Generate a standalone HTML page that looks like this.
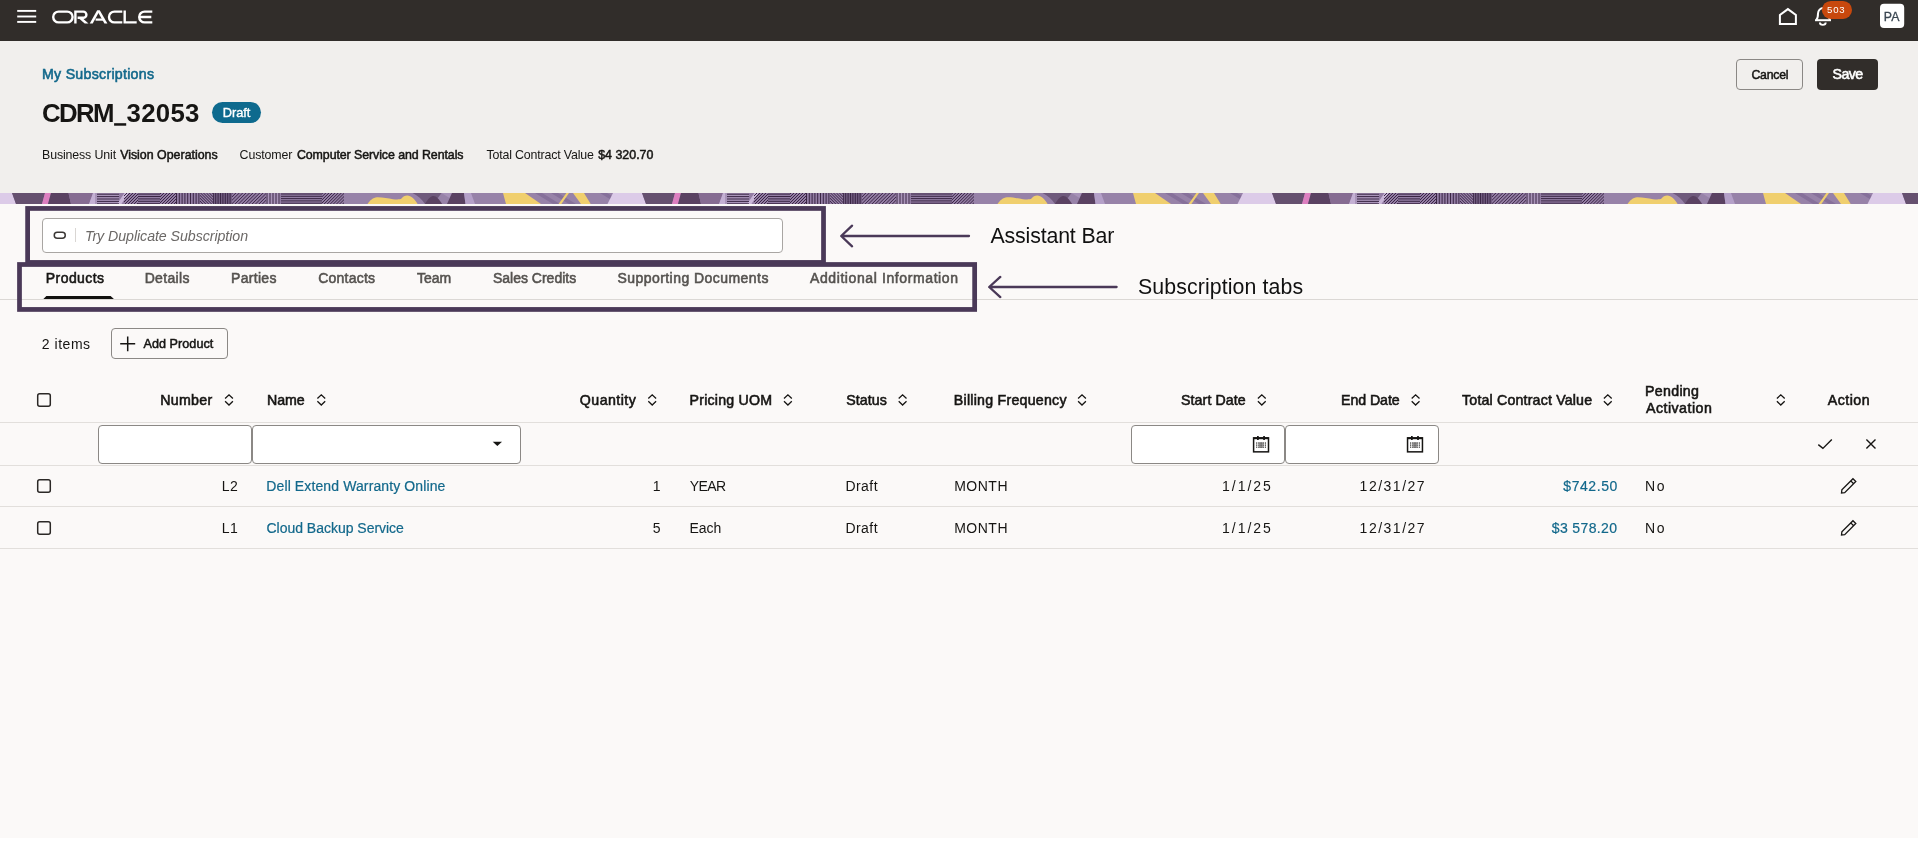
<!DOCTYPE html>
<html lang="en"><head><meta charset="utf-8"><title>CDRM_32053 - My Subscriptions</title>
<style>
html,body{margin:0;padding:0}
body{width:1918px;height:865px;position:relative;overflow:hidden;background:#fff;font-family:"Liberation Sans",sans-serif}
.a{position:absolute}
.t{position:absolute;white-space:nowrap;line-height:1}
.btn{position:absolute;box-sizing:border-box;border:1px solid #8b8885;border-radius:4px}
.inp{position:absolute;box-sizing:border-box;border:1px solid #8b8885;border-radius:4px;background:#fff}
.ln{position:absolute;left:0;width:1918px;height:1px;background:#e2dfdc}
svg{display:block;overflow:visible}
</style></head><body>
<div class="a" style="left:0;top:0;width:1918px;height:41px;background:#312d2a"></div>
<div class="a" style="left:0;top:41px;width:1918px;height:152px;background:#f1efed"></div>
<div class="a" style="left:0;top:204px;width:1918px;height:634px;background:#fbf9f8"></div>
<svg class="a" style="left:0;top:193px" width="1918" height="11" viewBox="0 0 1918 11"><defs><g id="bt"><rect x="0" y="0" width="630" height="11" fill="#9782a8"/><polygon points="0,0 12,0 16,11 0,11" fill="#dccbe8"/><polygon points="12,0 45,0 42,11 16,11" fill="#65506f"/><polygon points="45,0 51,0 48,11 42,11" fill="#dc7fc0"/><polygon points="51,0 68.5,0 71,11 48,11" fill="#5a4262"/><polygon points="68.5,0 93,0 89,11 71,11" fill="#866c92"/><polygon points="93,0 97,0 97,11 89,11" fill="#c4b0d4"/><rect x="95" y="0" width="249" height="11" fill="#937da4"/><rect x="95" y="0" width="24" height="11" fill="#a994b9"/><polygon points="117,11 124.5,0 128.5,0 121.5,11" fill="#c9b6d8"/><rect x="266" y="0" width="14" height="11" fill="#a994b9"/><clipPath id="hc0"><rect x="97" y="0" width="22" height="11"/></clipPath><g clip-path="url(#hc0)" stroke="#3a2644" stroke-width="1.0"><line x1="97" y1="1.2" x2="119" y2="1.2"/><line x1="97" y1="3.6" x2="119" y2="3.6"/><line x1="97" y1="6" x2="119" y2="6"/><line x1="97" y1="8.4" x2="119" y2="8.4"/><line x1="97" y1="10.8" x2="119" y2="10.8"/></g><clipPath id="hc1"><rect x="124" y="0" width="14" height="11"/></clipPath><g clip-path="url(#hc1)" stroke="#3a2644" stroke-width="1.0"><line x1="113" y1="11" x2="124" y2="0"/><line x1="116" y1="11" x2="127" y2="0"/><line x1="119" y1="11" x2="130" y2="0"/><line x1="122" y1="11" x2="133" y2="0"/><line x1="125" y1="11" x2="136" y2="0"/><line x1="128" y1="11" x2="139" y2="0"/><line x1="131" y1="11" x2="142" y2="0"/><line x1="134" y1="11" x2="145" y2="0"/><line x1="137" y1="11" x2="148" y2="0"/></g><clipPath id="hc2"><rect x="138" y="0" width="22" height="11"/></clipPath><g clip-path="url(#hc2)" stroke="#3a2644" stroke-width="1.0"><line x1="138" y1="1.1" x2="160" y2="1.1"/><line x1="138" y1="3.5" x2="160" y2="3.5"/><line x1="138" y1="5.9" x2="160" y2="5.9"/><line x1="138" y1="8.3" x2="160" y2="8.3"/><line x1="138" y1="10.7" x2="160" y2="10.7"/></g><clipPath id="hc3"><rect x="160" y="0" width="16" height="11"/></clipPath><g clip-path="url(#hc3)" stroke="#3a2644" stroke-width="1.0"><line x1="150" y1="11" x2="161" y2="0"/><line x1="153" y1="11" x2="164" y2="0"/><line x1="156" y1="11" x2="167" y2="0"/><line x1="159" y1="11" x2="170" y2="0"/><line x1="162" y1="11" x2="173" y2="0"/><line x1="165" y1="11" x2="176" y2="0"/><line x1="168" y1="11" x2="179" y2="0"/><line x1="171" y1="11" x2="182" y2="0"/><line x1="174" y1="11" x2="185" y2="0"/></g><clipPath id="hc4"><rect x="176" y="0" width="24" height="11"/></clipPath><g clip-path="url(#hc4)" stroke="#3a2644" stroke-width="1.0"><line x1="176.5" y1="0" x2="176.5" y2="11"/><line x1="179.3" y1="0" x2="179.3" y2="11"/><line x1="182.1" y1="0" x2="182.1" y2="11"/><line x1="184.9" y1="0" x2="184.9" y2="11"/><line x1="187.7" y1="0" x2="187.7" y2="11"/><line x1="190.5" y1="0" x2="190.5" y2="11"/><line x1="193.3" y1="0" x2="193.3" y2="11"/><line x1="196.1" y1="0" x2="196.1" y2="11"/><line x1="198.9" y1="0" x2="198.9" y2="11"/></g><clipPath id="hc5"><rect x="200" y="0" width="13" height="11"/></clipPath><g clip-path="url(#hc5)" stroke="#3a2644" stroke-width="1.0"><line x1="189" y1="0" x2="200" y2="11"/><line x1="191.9" y1="0" x2="202.9" y2="11"/><line x1="194.8" y1="0" x2="205.8" y2="11"/><line x1="197.7" y1="0" x2="208.7" y2="11"/><line x1="200.6" y1="0" x2="211.6" y2="11"/><line x1="203.5" y1="0" x2="214.5" y2="11"/><line x1="206.4" y1="0" x2="217.4" y2="11"/><line x1="209.3" y1="0" x2="220.3" y2="11"/><line x1="212.2" y1="0" x2="223.2" y2="11"/></g><clipPath id="hc6"><rect x="213" y="0" width="19" height="11"/></clipPath><g clip-path="url(#hc6)" stroke="#3a2644" stroke-width="1.0"><line x1="213.3" y1="0" x2="213.3" y2="11"/><line x1="215.7" y1="0" x2="215.7" y2="11"/><line x1="218.1" y1="0" x2="218.1" y2="11"/><line x1="220.5" y1="0" x2="220.5" y2="11"/><line x1="222.9" y1="0" x2="222.9" y2="11"/><line x1="225.3" y1="0" x2="225.3" y2="11"/><line x1="227.7" y1="0" x2="227.7" y2="11"/><line x1="230.1" y1="0" x2="230.1" y2="11"/></g><clipPath id="hc7"><rect x="232" y="0" width="34" height="11"/></clipPath><g clip-path="url(#hc7)" stroke="#3a2644" stroke-width="1.0"><line x1="221.5" y1="11" x2="232.5" y2="0"/><line x1="224.9" y1="11" x2="235.9" y2="0"/><line x1="228.3" y1="11" x2="239.3" y2="0"/><line x1="231.7" y1="11" x2="242.7" y2="0"/><line x1="235.1" y1="11" x2="246.1" y2="0"/><line x1="238.5" y1="11" x2="249.5" y2="0"/><line x1="241.9" y1="11" x2="252.9" y2="0"/><line x1="245.3" y1="11" x2="256.3" y2="0"/><line x1="248.7" y1="11" x2="259.7" y2="0"/><line x1="252.1" y1="11" x2="263.1" y2="0"/><line x1="255.5" y1="11" x2="266.5" y2="0"/><line x1="258.9" y1="11" x2="269.9" y2="0"/><line x1="262.3" y1="11" x2="273.3" y2="0"/><line x1="265.7" y1="11" x2="276.7" y2="0"/></g><clipPath id="hc8"><rect x="266" y="0" width="15" height="11"/></clipPath><g clip-path="url(#hc8)" stroke="#3a2644" stroke-width="1.0"><line x1="267" y1="0" x2="267" y2="11"/><line x1="270" y1="0" x2="270" y2="11"/><line x1="273" y1="0" x2="273" y2="11"/><line x1="276" y1="0" x2="276" y2="11"/><line x1="279" y1="0" x2="279" y2="11"/></g><clipPath id="hc9"><rect x="281" y="0" width="41" height="11"/></clipPath><g clip-path="url(#hc9)" stroke="#3a2644" stroke-width="1.0"><line x1="281" y1="1" x2="322" y2="1"/><line x1="281" y1="3.3" x2="322" y2="3.3"/><line x1="281" y1="5.6" x2="322" y2="5.6"/><line x1="281" y1="7.9" x2="322" y2="7.9"/><line x1="281" y1="10.2" x2="322" y2="10.2"/></g><clipPath id="hc10"><rect x="322" y="0" width="22" height="11"/></clipPath><g clip-path="url(#hc10)" stroke="#3a2644" stroke-width="1.0"><line x1="311.7" y1="11" x2="322.7" y2="0"/><line x1="314.8" y1="11" x2="325.8" y2="0"/><line x1="317.9" y1="11" x2="328.9" y2="0"/><line x1="321" y1="11" x2="332" y2="0"/><line x1="324.1" y1="11" x2="335.1" y2="0"/><line x1="327.2" y1="11" x2="338.2" y2="0"/><line x1="330.3" y1="11" x2="341.3" y2="0"/><line x1="333.4" y1="11" x2="344.4" y2="0"/><line x1="336.5" y1="11" x2="347.5" y2="0"/><line x1="339.6" y1="11" x2="350.6" y2="0"/><line x1="342.7" y1="11" x2="353.7" y2="0"/></g><rect x="213" y="0" width="19" height="11" fill="#3a2644" opacity="0.35"/><path d="M367.5,11 C370,7.5 373,4.6 377,4.3 C383,4.2 388,5.6 393,6.2 C397,6.7 400,6.6 401.5,5.6 C403,3.6 405,2.5 407.5,2.6 C411,2.8 415,6.5 417.6,11 Z" fill="#f0cf6e"/><path d="M412.5,0 L441.5,0 L437.5,5.5 L431,11 L425,11 C422,6.5 418,2.5 412.5,0 Z" fill="#6f5a7c"/><path d="M425,11 C428,5.5 431,3 433.6,3 C436.2,3 439,6 442.2,11 Z" fill="#5a4262"/><polygon points="441.5,0 452,0 449.5,5" fill="#a792b8"/><polygon points="452,0 464,0 465.5,11 447,11" fill="#5a4262"/><polygon points="464,0 471,0 475,11 465.5,11" fill="#b4a0c8"/><polygon points="503,0 525,0 541,11 506,11" fill="#f0cf6e"/><polygon points="535,0 542,0 560,11 553,11" fill="#86709a"/><polygon points="551,0 558,0 576,11 569,11" fill="#86709a"/><polygon points="600,0 607,0 625,11 618,11" fill="#86709a"/><polygon points="566.4,0 569,0 561.4,11 558.6,11" fill="#f0cf6e"/><polygon points="573,0 584,0 590.7,11 581,11" fill="#f0cf6e"/><polygon points="613,0 630,0 630,11 607.5,11" fill="#dccbe8"/></g></defs><use href="#bt"/><use href="#bt" x="630"/><use href="#bt" x="1260"/><use href="#bt" x="1890"/></svg>
<!-- top bar icons -->
<svg class="a" style="left:0;top:0" width="1918" height="41" viewBox="0 0 1918 41">
<g fill="#fff"><rect x="17.2" y="9.95" width="19" height="1.9"/><rect x="17.2" y="15.55" width="19" height="1.9"/><rect x="17.2" y="20.95" width="19" height="1.9"/></g>
<g transform="translate(52,10.4)" fill="none" stroke="#fff" stroke-width="2.4">
<rect x="1.2" y="1.2" width="19.4" height="10.8" rx="5.4"/>
<path d="M23.4,13.2 V1.2 H31.3 a3.1,3.1 0 0 1 0,6.2 H25.6" stroke-linejoin="miter"/>
<g fill="#fff" stroke="none"><polygon points="25.8,7.2 29.8,7.2 36.5,13.2 32.7,13.2"/><polygon points="37.7,13.2 40.7,13.2 47.9,0.2 45.0,0.2"/><polygon points="45.0,0.2 47.9,0.2 55.4,13.2 52.4,13.2"/><rect x="43.6" y="8.1" width="8.2" height="2.2"/></g>
<path d="M70.3,1.2 H62.4 a5.4,5.4 0 0 0 0,10.8 H70.3"/>
<path d="M72.7,0 V12 H84.7"/>
<path d="M100.3,1.2 H92.6 a5.4,5.4 0 0 0 0,10.8 H100.3 M88.2,6.6 H99.3"/>
</g>
<path d="M1779.9,24.1 V14.9 L1787.9,9.1 L1795.9,14.9 V24.1 Z" fill="none" stroke="#fff" stroke-width="2" stroke-linejoin="miter"/>
<path d="M1816.4,19.8 C1817.9,18.2 1818,16.2 1818,13.6 a5.3,5.6 0 0 1 10.6,0 C1828.6,16.2 1828.7,18.2 1830.2,19.8" fill="none" stroke="#fff" stroke-width="2"/>
<path d="M1815,20.2 H1831" fill="none" stroke="#fff" stroke-width="2"/>
<path d="M1819.9,22.6 a2.9,2.3 0 0 0 5.8,0" fill="none" stroke="#fff" stroke-width="1.9"/>
<rect x="1821.9" y="1" width="30.1" height="17.9" rx="8.95" fill="#c8480d"/>
<rect x="1880" y="3.7" width="24.2" height="24.3" rx="4" fill="#fff"/>
</svg>
<!-- header -->
<svg class="a" style="left:100px;top:120px" width="40" height="8" viewBox="100 120 40 8"><rect x="114.1" y="123.2" width="12.1" height="2.5" fill="#161513"/></svg>
<div class="a" style="left:212px;top:102px;width:49px;height:21px;border-radius:10.5px;background:#0e6a8e"></div>
<div class="btn" style="left:1736px;top:59px;width:67px;height:31px"></div>
<div class="a" style="left:1817px;top:59px;width:61px;height:31px;border-radius:4px;background:#312d2a"></div>
<!-- assistant + tabs -->
<div class="inp" style="left:42px;top:218px;width:741px;height:35px;border-color:#a9a6a3"></div>
<div class="a" style="left:75px;top:228px;width:1px;height:14px;background:#d9d6d3"></div>
<div class="ln" style="top:299px;background:#dbd8d5"></div>
<svg class="a" style="left:0;top:204px" width="1918" height="120" viewBox="0 204 1918 120">
<rect x="54.25" y="232.15" width="11" height="6" rx="3" fill="none" stroke="#3a3735" stroke-width="1.5"/>
<polygon points="43.4,299 46.4,296 110.6,296 113.9,299" fill="#12110f"/>
<g fill="none" stroke="#4a3958" stroke-width="4.75">
<rect x="27.62" y="208.45" width="795.9" height="54.0"/>
<rect x="19.5" y="264.5" width="955.15" height="44.95"/>
</g>
<g fill="none" stroke="#4a3958" stroke-width="2.3" stroke-linecap="round" stroke-linejoin="round">
<path d="M842,236 H969 M852.1,225.7 L841.2,236 L852.1,246.3"/>
<path d="M990,287 H1116.6 M1000.3,276.9 L989.2,287 L1000.3,297.1"/>
</g>
</svg>
<!-- toolbar -->
<div class="btn" style="left:111px;top:328px;width:117px;height:31px"></div>
<!-- table -->
<div class="ln" style="top:422px"></div><div class="ln" style="top:465px"></div><div class="ln" style="top:506px"></div><div class="ln" style="top:548px"></div>
<div class="inp" style="left:98px;top:425px;width:154px;height:39px"></div>
<div class="inp" style="left:252px;top:425px;width:269px;height:39px"></div>
<div class="inp" style="left:1131px;top:425px;width:154px;height:39px"></div>
<div class="inp" style="left:1285px;top:425px;width:154px;height:39px"></div>
<svg class="a" style="left:0;top:320px" width="1918" height="240" viewBox="0 320 1918 240">
<path d="M120.2,343.7 H135.2 M127.7,336.4 V351.2" fill="none" stroke="#161513" stroke-width="1.5"/>
<rect x="37.7" y="393.7" width="12.6" height="12.6" rx="2" fill="none" stroke="#2b2826" stroke-width="1.5"/><rect x="37.7" y="479.7" width="12.6" height="12.6" rx="2" fill="none" stroke="#2b2826" stroke-width="1.5"/><rect x="37.7" y="521.7" width="12.6" height="12.6" rx="2" fill="none" stroke="#2b2826" stroke-width="1.5"/>
<path d="M225.10,398.5 L229.00,394.8 L232.90,398.5 M225.10,401.3 L229.00,405.0 L232.90,401.3 M317.40,398.5 L321.30,394.8 L325.20,398.5 M317.40,401.3 L321.30,405.0 L325.20,401.3 M648.30,398.5 L652.20,394.8 L656.10,398.5 M648.30,401.3 L652.20,405.0 L656.10,401.3 M784.00,398.5 L787.90,394.8 L791.80,398.5 M784.00,401.3 L787.90,405.0 L791.80,401.3 M898.70,398.5 L902.60,394.8 L906.50,398.5 M898.70,401.3 L902.60,405.0 L906.50,401.3 M1078.10,398.5 L1082.00,394.8 L1085.90,398.5 M1078.10,401.3 L1082.00,405.0 L1085.90,401.3 M1257.90,398.5 L1261.80,394.8 L1265.70,398.5 M1257.90,401.3 L1261.80,405.0 L1265.70,401.3 M1411.70,398.5 L1415.60,394.8 L1419.50,398.5 M1411.70,401.3 L1415.60,405.0 L1419.50,401.3 M1603.90,398.5 L1607.80,394.8 L1611.70,398.5 M1603.90,401.3 L1607.80,405.0 L1611.70,401.3 M1776.90,398.5 L1780.80,394.8 L1784.70,398.5 M1776.90,401.3 L1780.80,405.0 L1784.70,401.3" fill="none" stroke="#161513" stroke-width="1.3"/>
<path d="M492.7,441.8 H502 L497.35,446.1 Z" fill="#161513"/>
<g transform="translate(1252.85,437.1)" fill="none" stroke="#161513"><rect x="0.75" y="0.75" width="14.9" height="14" stroke-width="1.5"/><path d="M0.75,1.25 H15.65" stroke-width="1.7"/><path d="M5.05,-1.1 V2.9 M11.2,-1.1 V2.9" stroke-width="1.7"/><path d="M3.9,5.2 V10.8 M6.0,5.2 V10.8 M8.2,5.2 V10.8 M10.4,5.2 V10.8 M12.5,5.2 V10.8" stroke-width="0.9" stroke-dasharray="1.5 0.6"/><rect x="6" y="5.2" width="4.4" height="5.6" fill="#161513" opacity="0.35" stroke="none"/></g><g transform="translate(1406.8,437.1)" fill="none" stroke="#161513"><rect x="0.75" y="0.75" width="14.9" height="14" stroke-width="1.5"/><path d="M0.75,1.25 H15.65" stroke-width="1.7"/><path d="M5.05,-1.1 V2.9 M11.2,-1.1 V2.9" stroke-width="1.7"/><path d="M3.9,5.2 V10.8 M6.0,5.2 V10.8 M8.2,5.2 V10.8 M10.4,5.2 V10.8 M12.5,5.2 V10.8" stroke-width="0.9" stroke-dasharray="1.5 0.6"/><rect x="6" y="5.2" width="4.4" height="5.6" fill="#161513" opacity="0.35" stroke="none"/></g>
<path d="M1818.3,444.6 L1822.9,448.4 L1831.8,439.5" fill="none" stroke="#161513" stroke-width="1.4"/>
<path d="M1866.4,439.6 L1875.5,448.4 M1875.5,439.6 L1866.4,448.4" fill="none" stroke="#161513" stroke-width="1.4"/>
<g transform="translate(1841.3,493.2) rotate(-45)" fill="none" stroke="#161513" stroke-width="1.3" stroke-linejoin="miter"><path d="M0.3,0 L2.8,-2 H18.5 V2 H2.8 Z M15.4,-2 V2"/></g><g transform="translate(1841.3,535.2) rotate(-45)" fill="none" stroke="#161513" stroke-width="1.3" stroke-linejoin="miter"><path d="M0.3,0 L2.8,-2 H18.5 V2 H2.8 Z M15.4,-2 V2"/></g>
</svg>
<div class="a" style="left:0;top:0;width:1918px;height:865px;will-change:transform">
<span class="t" style="left:1827.11px;top:5px;font:normal 400 9.6px/1 'Liberation Sans',sans-serif;letter-spacing:0.795px;color:#ffffff">503</span>
<span class="t" style="left:1883.87px;top:11px;font:normal 400 12.3px/1 'Liberation Sans',sans-serif;-webkit-text-stroke:0.3px #3a4651;letter-spacing:0.080px;color:#3a4651">PA</span>
<span class="t" style="left:41.97px;top:67px;font:normal 400 14.2px/1 'Liberation Sans',sans-serif;-webkit-text-stroke:0.57px #12688b;letter-spacing:0.269px;color:#12688b">My Subscriptions</span>
<span class="t" style="left:42.00px;top:101px;font:normal 700 25.8px/1 'Liberation Sans',sans-serif;letter-spacing:-1.667px;color:#161513">CDRM</span>
<span class="t" style="left:126.49px;top:101px;font:normal 700 25.8px/1 'Liberation Sans',sans-serif;letter-spacing:0.301px;color:#161513">32053</span>
<span class="t" style="left:222.87px;top:107px;font:normal 400 12.8px/1 'Liberation Sans',sans-serif;-webkit-text-stroke:0.38px #ffffff;letter-spacing:-0.043px;color:#ffffff">Draft</span>
<span class="t" style="left:42.00px;top:149px;font:normal 400 12.4px/1 'Liberation Sans',sans-serif;letter-spacing:-0.138px;color:#161513">Business Unit</span>
<span class="t" style="left:120.14px;top:149px;font:normal 400 12.4px/1 'Liberation Sans',sans-serif;-webkit-text-stroke:0.5px #161513;color:#161513">Vision Operations</span>
<span class="t" style="left:239.57px;top:149px;font:normal 400 12.4px/1 'Liberation Sans',sans-serif;letter-spacing:-0.131px;color:#161513">Customer</span>
<span class="t" style="left:296.90px;top:149px;font:normal 400 12.4px/1 'Liberation Sans',sans-serif;-webkit-text-stroke:0.5px #161513;letter-spacing:-0.078px;color:#161513">Computer Service and Rentals</span>
<span class="t" style="left:486.50px;top:149px;font:normal 400 12.4px/1 'Liberation Sans',sans-serif;letter-spacing:-0.175px;color:#161513">Total Contract Value</span>
<span class="t" style="left:598.23px;top:149px;font:normal 400 12.4px/1 'Liberation Sans',sans-serif;-webkit-text-stroke:0.5px #161513;letter-spacing:0.009px;color:#161513">$4 320.70</span>
<span class="t" style="left:1751.40px;top:69px;font:normal 400 12.3px/1 'Liberation Sans',sans-serif;-webkit-text-stroke:0.49px #161513;letter-spacing:-0.240px;color:#161513">Cancel</span>
<span class="t" style="left:1832.60px;top:67px;font:normal 400 14.2px/1 'Liberation Sans',sans-serif;-webkit-text-stroke:0.57px #ffffff;letter-spacing:-0.603px;color:#ffffff">Save</span>
<span class="t" style="left:84.90px;top:229px;font:italic 400 14.2px/1 'Liberation Sans',sans-serif;letter-spacing:-0.056px;color:#6b6866">Try Duplicate Subscription</span>
<span class="t" style="left:990.50px;top:226px;font:normal 400 21.3px/1 'Liberation Sans',sans-serif;letter-spacing:-0.142px;color:#111111">Assistant Bar</span>
<span class="t" style="left:1138.00px;top:277px;font:normal 400 21.3px/1 'Liberation Sans',sans-serif;letter-spacing:0.106px;color:#111111">Subscription tabs</span>
<span class="t" style="left:45.87px;top:271px;font:normal 400 14.0px/1 'Liberation Sans',sans-serif;-webkit-text-stroke:0.56px #161513;letter-spacing:0.419px;color:#161513">Products</span>
<span class="t" style="left:144.67px;top:271px;font:normal 400 14.0px/1 'Liberation Sans',sans-serif;-webkit-text-stroke:0.56px #55524f;letter-spacing:0.339px;color:#55524f">Details</span>
<span class="t" style="left:231.07px;top:271px;font:normal 400 14.0px/1 'Liberation Sans',sans-serif;-webkit-text-stroke:0.56px #55524f;letter-spacing:0.302px;color:#55524f">Parties</span>
<span class="t" style="left:318.30px;top:271px;font:normal 400 14.0px/1 'Liberation Sans',sans-serif;-webkit-text-stroke:0.56px #55524f;letter-spacing:0.214px;color:#55524f">Contacts</span>
<span class="t" style="left:417.10px;top:271px;font:normal 400 14.0px/1 'Liberation Sans',sans-serif;-webkit-text-stroke:0.56px #55524f;letter-spacing:-0.067px;color:#55524f">Team</span>
<span class="t" style="left:493.00px;top:271px;font:normal 400 14.0px/1 'Liberation Sans',sans-serif;-webkit-text-stroke:0.56px #55524f;letter-spacing:-0.008px;color:#55524f">Sales Credits</span>
<span class="t" style="left:617.40px;top:271px;font:normal 400 14.0px/1 'Liberation Sans',sans-serif;-webkit-text-stroke:0.56px #55524f;letter-spacing:0.452px;color:#55524f">Supporting Documents</span>
<span class="t" style="left:809.96px;top:271px;font:normal 400 14.0px/1 'Liberation Sans',sans-serif;-webkit-text-stroke:0.56px #55524f;letter-spacing:0.602px;color:#55524f">Additional Information</span>
<span class="t" style="left:41.75px;top:337px;font:normal 400 14.0px/1 'Liberation Sans',sans-serif;letter-spacing:0.536px;color:#161513">2 items</span>
<span class="t" style="left:143.44px;top:338px;font:normal 400 12.6px/1 'Liberation Sans',sans-serif;-webkit-text-stroke:0.5px #161513;letter-spacing:0.061px;color:#161513">Add Product</span>
<span class="t" style="left:160.27px;top:393px;font:normal 400 14.2px/1 'Liberation Sans',sans-serif;-webkit-text-stroke:0.57px #161513;letter-spacing:0.286px;color:#161513">Number</span>
<span class="t" style="left:267.07px;top:393px;font:normal 400 14.2px/1 'Liberation Sans',sans-serif;-webkit-text-stroke:0.57px #161513;letter-spacing:-0.089px;color:#161513">Name</span>
<span class="t" style="left:579.80px;top:393px;font:normal 400 14.2px/1 'Liberation Sans',sans-serif;-webkit-text-stroke:0.57px #161513;letter-spacing:0.454px;color:#161513">Quantity</span>
<span class="t" style="left:689.57px;top:393px;font:normal 400 14.2px/1 'Liberation Sans',sans-serif;-webkit-text-stroke:0.57px #161513;letter-spacing:0.213px;color:#161513">Pricing UOM</span>
<span class="t" style="left:846.20px;top:393px;font:normal 400 14.2px/1 'Liberation Sans',sans-serif;-webkit-text-stroke:0.57px #161513;letter-spacing:0.092px;color:#161513">Status</span>
<span class="t" style="left:953.87px;top:393px;font:normal 400 14.2px/1 'Liberation Sans',sans-serif;-webkit-text-stroke:0.57px #161513;letter-spacing:0.238px;color:#161513">Billing Frequency</span>
<span class="t" style="left:1181.00px;top:393px;font:normal 400 14.2px/1 'Liberation Sans',sans-serif;-webkit-text-stroke:0.57px #161513;letter-spacing:0.089px;color:#161513">Start Date</span>
<span class="t" style="left:1341.07px;top:393px;font:normal 400 14.2px/1 'Liberation Sans',sans-serif;-webkit-text-stroke:0.57px #161513;letter-spacing:-0.081px;color:#161513">End Date</span>
<span class="t" style="left:1462.10px;top:393px;font:normal 400 14.2px/1 'Liberation Sans',sans-serif;-webkit-text-stroke:0.57px #161513;letter-spacing:0.172px;color:#161513">Total Contract Value</span>
<span class="t" style="left:1644.97px;top:384px;font:normal 400 14.2px/1 'Liberation Sans',sans-serif;-webkit-text-stroke:0.57px #161513;letter-spacing:0.322px;color:#161513">Pending</span>
<span class="t" style="left:1645.96px;top:401px;font:normal 400 14.2px/1 'Liberation Sans',sans-serif;-webkit-text-stroke:0.57px #161513;letter-spacing:0.483px;color:#161513">Activation</span>
<span class="t" style="left:1827.66px;top:393px;font:normal 400 14.2px/1 'Liberation Sans',sans-serif;-webkit-text-stroke:0.57px #161513;letter-spacing:0.509px;color:#161513">Action</span>
<span class="t" style="left:221.80px;top:479px;font:normal 400 14.0px/1 'Liberation Sans',sans-serif;letter-spacing:0.400px;color:#161513">L2</span>
<span class="t" style="left:266.30px;top:479px;font:normal 400 14.0px/1 'Liberation Sans',sans-serif;-webkit-text-stroke:0.2px #12688b;letter-spacing:0.114px;color:#12688b">Dell Extend Warranty Online</span>
<span class="t" style="left:652.67px;top:479px;font:normal 400 14.0px/1 'Liberation Sans',sans-serif;color:#161513">1</span>
<span class="t" style="left:689.69px;top:479px;font:normal 400 14.0px/1 'Liberation Sans',sans-serif;letter-spacing:-0.591px;color:#161513">YEAR</span>
<span class="t" style="left:845.50px;top:479px;font:normal 400 14.0px/1 'Liberation Sans',sans-serif;letter-spacing:0.422px;color:#161513">Draft</span>
<span class="t" style="left:954.20px;top:479px;font:normal 400 14.0px/1 'Liberation Sans',sans-serif;letter-spacing:0.498px;color:#161513">MONTH</span>
<span class="t" style="left:1222.00px;top:479px;font:normal 400 14.0px/1 'Liberation Sans',sans-serif;letter-spacing:1.977px;color:#161513">1/1/25</span>
<span class="t" style="left:1359.60px;top:479px;font:normal 400 14.0px/1 'Liberation Sans',sans-serif;letter-spacing:1.500px;color:#161513">12/31/27</span>
<span class="t" style="left:1563.30px;top:479px;font:normal 400 14.0px/1 'Liberation Sans',sans-serif;-webkit-text-stroke:0.2px #12688b;letter-spacing:0.565px;color:#12688b">$742.50</span>
<span class="t" style="left:1645.10px;top:479px;font:normal 400 14.0px/1 'Liberation Sans',sans-serif;letter-spacing:1.427px;color:#161513">No</span>
<span class="t" style="left:221.80px;top:521px;font:normal 400 14.0px/1 'Liberation Sans',sans-serif;letter-spacing:0.400px;color:#161513">L1</span>
<span class="t" style="left:266.49px;top:521px;font:normal 400 14.0px/1 'Liberation Sans',sans-serif;-webkit-text-stroke:0.2px #12688b;letter-spacing:-0.018px;color:#12688b">Cloud Backup Service</span>
<span class="t" style="left:652.71px;top:521px;font:normal 400 14.0px/1 'Liberation Sans',sans-serif;color:#161513">5</span>
<span class="t" style="left:689.50px;top:521px;font:normal 400 14.0px/1 'Liberation Sans',sans-serif;letter-spacing:-0.067px;color:#161513">Each</span>
<span class="t" style="left:845.50px;top:521px;font:normal 400 14.0px/1 'Liberation Sans',sans-serif;letter-spacing:0.422px;color:#161513">Draft</span>
<span class="t" style="left:954.20px;top:521px;font:normal 400 14.0px/1 'Liberation Sans',sans-serif;letter-spacing:0.498px;color:#161513">MONTH</span>
<span class="t" style="left:1222.00px;top:521px;font:normal 400 14.0px/1 'Liberation Sans',sans-serif;letter-spacing:1.977px;color:#161513">1/1/25</span>
<span class="t" style="left:1359.60px;top:521px;font:normal 400 14.0px/1 'Liberation Sans',sans-serif;letter-spacing:1.500px;color:#161513">12/31/27</span>
<span class="t" style="left:1551.80px;top:521px;font:normal 400 14.0px/1 'Liberation Sans',sans-serif;-webkit-text-stroke:0.2px #12688b;letter-spacing:0.363px;color:#12688b">$3 578.20</span>
<span class="t" style="left:1645.10px;top:521px;font:normal 400 14.0px/1 'Liberation Sans',sans-serif;letter-spacing:1.427px;color:#161513">No</span>
</div>
</body></html>
